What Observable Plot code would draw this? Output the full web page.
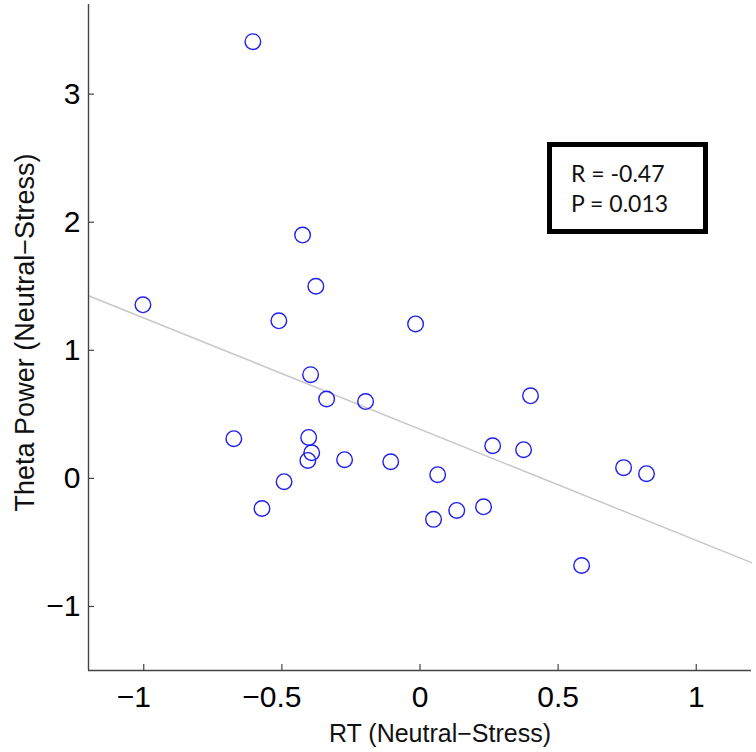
<!DOCTYPE html>
<html><head><meta charset="utf-8">
<script src="https://cdn.jsdelivr.net/npm/d3@7"></script>
<script src="https://cdn.jsdelivr.net/npm/@observablehq/plot@0.6"></script>
<style>
body{margin:0;background:#fff;}
#wrap{position:relative;width:756px;height:752px;}
#stats{position:absolute;left:547px;top:142px;width:132px;height:71px;padding:11px 0 0 19px;border:5px solid #000;background:#fff;font-family:Lato,"Open Sans",sans-serif;font-size:23px;line-height:30px;color:#111;box-sizing:content-box;}
</style></head><body>
<div id="wrap"><div id="stats"></div></div>
<script>
// Data
const rtDiff    = [-0.605, -1.003, -0.425, -0.377, -0.511, -0.016, -0.396, -0.338, -0.197, 0.400, -0.674, -0.403, -0.392, -0.406, -0.273, -0.106, -0.492, -0.572, 0.064, 0.263, 0.375, 0.049, 0.133, 0.230, 0.737, 0.820, 0.585];
const thetaDiff = [3.41, 1.355, 1.90, 1.50, 1.23, 1.206, 0.81, 0.62, 0.60, 0.645, 0.31, 0.32, 0.20, 0.14, 0.146, 0.13, -0.026, -0.235, 0.029, 0.255, 0.224, -0.32, -0.25, -0.222, 0.084, 0.037, -0.68];
const xTicks = [-1, -0.5, 0, 0.5, 1];
const yTicks = [-1, 0, 1, 2, 3];
const xDomain = [-1.2, 1.2];
const yDomain = [-1.5, 3.7];
const fitX = [-1.2, 1.2];
const fitY = [1.426, -0.658];
const statLines = ["R = -0.47", "P = 0.013"];
const xLabel = "RT (Neutral\u2212Stress)";
const yLabel = "Theta Power (Neutral\u2212Stress)";

const data = rtDiff.map((x, i) => ({x, y: thetaDiff[i]}));
const fit = fitX.map((x, i) => ({x, y: fitY[i]}));
const W = 756, H = 752, mL = 88, mR = 5, mT = 4, mB = 82;
const innerW = W - mL - mR, innerH = H - mT - mB;
const fmt = d => (d < 0 ? "\u2212" : "") + Math.abs(d);
const axisFont = "'Liberation Sans', Arial, Helvetica, sans-serif";
const axisCol = "#444";

const chart = Plot.plot({
  width: W, height: H,
  marginLeft: mL, marginRight: mR, marginTop: mT, marginBottom: mB,
  style: {fontFamily: axisFont, background: "white", color: "#000", overflow: "visible"},
  x: {domain: xDomain},
  y: {domain: yDomain},
  marks: [
    Plot.line(fit, {x: "x", y: "y", stroke: "#c8c8c8", strokeWidth: 1.5}),
    Plot.dot(data, {x: "x", y: "y", r: 7.8, stroke: "#1f1ff0", strokeWidth: 1.4, fill: "none"}),
    Plot.ruleX([xDomain[0]], {stroke: axisCol, strokeWidth: 1.4}),
    Plot.ruleY([yDomain[0]], {stroke: axisCol, strokeWidth: 1.4}),
    Plot.tickX(xTicks, {x: d => d, insetTop: innerH - 6, stroke: axisCol, strokeWidth: 1.2}),
    Plot.tickY(yTicks, {y: d => d, insetRight: innerW - 6, stroke: axisCol, strokeWidth: 1.2}),
    Plot.axisX(xTicks.filter(d => d < 0), {tickSize: 0, tickPadding: 15, fontSize: 30, tickFormat: fmt, label: null, dx: -10}),
    Plot.axisX(xTicks.filter(d => d >= 0), {tickSize: 0, tickPadding: 15, fontSize: 30, tickFormat: fmt, label: null}),
    Plot.axisY(yTicks, {tickSize: 0, tickPadding: 8, fontSize: 30, tickFormat: fmt, label: null}),
    Plot.text([xLabel], {frameAnchor: "bottom", dy: 63, dx: 20, fontSize: 25, lineAnchor: "middle", textAnchor: "middle", text: d => d, fill: "#111"}),
    Plot.text([yLabel], {frameAnchor: "left", dx: -63, dy: -5, rotate: -90, fontSize: 27, lineAnchor: "middle", textAnchor: "middle", text: d => d, fill: "#111"})
  ]
});
document.getElementById("wrap").prepend(chart);
document.getElementById("stats").innerHTML = statLines.map(s => `<div>${s}</div>`).join("");
</script>
</body></html>
